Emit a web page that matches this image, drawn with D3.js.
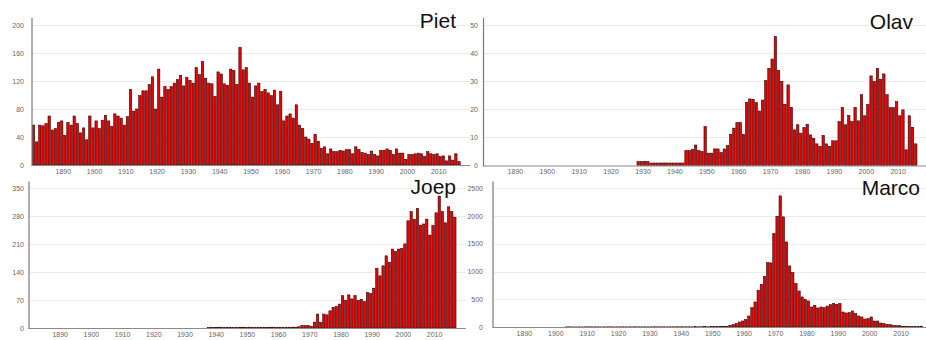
<!DOCTYPE html>
<html>
<head>
<meta charset="utf-8">
<script src="https://cdn.jsdelivr.net/npm/d3@7"></script>
<style>
  html, body { margin: 0; padding: 0; background: #fff; overflow: hidden; }
  svg { display: block; }
</style>
</head>
<body>
<svg id="chart" width="926" height="340"></svg>
<script>
// Yearly counts per first name (first year of each series + values)
const yearTicks = [1890, 1900, 1910, 1920, 1930, 1940, 1950, 1960, 1970, 1980, 1990, 2000, 2010];

const pietStart = 1880;
const pietCounts = [
  57, 33, 57, 56, 59, 70, 50, 52, 61, 63,
  42, 61, 57, 70, 59, 46, 53, 36, 70, 53,
  63, 52, 64, 71, 63, 55, 73, 70, 67, 57,
  69, 108, 77, 80, 99, 106, 106, 115, 126, 80,
  137, 97, 112, 108, 112, 117, 122, 128, 113, 125,
  121, 117, 139, 129, 148, 124, 117, 116, 98, 133,
  130, 116, 114, 137, 135, 115, 168, 136, 139, 117,
  97, 113, 117, 105, 108, 103, 99, 107, 86, 105,
  63, 70, 73, 67, 86, 57, 52, 40, 37, 31,
  44, 34, 24, 26, 16, 23, 19, 19, 21, 20,
  22, 22, 16, 26, 22, 18, 17, 15, 20, 15,
  13, 21, 21, 23, 21, 15, 23, 17, 17, 8,
  15, 15, 16, 17, 16, 12, 19, 16, 15, 16,
  12, 13, 6, 13, 7, 16, 5
];

const olavStart = 1928;
const olavCounts = [
  1.4, 1.4, 1.4, 1.4,
  0.9, 0.9, 0.9, 0.9, 0.9, 0.9, 0.9, 0.9, 0.9, 0.9, 0.9,
  5.3, 5.3, 5.8, 7.3, 5.3, 5.0, 13.9,
  4.4, 4.4, 5.9, 5.9, 4.6, 5.9, 7.1, 11.1, 13.3, 15.3,
  15.3, 11.1, 22.5, 23.7, 23.6, 22.4, 19.4, 23.3, 30.2, 34.6,
  37.9, 45.9, 33.8, 29.9, 21.8, 28.7, 20.7, 12.7, 14.5, 11.5,
  13.5, 14.7, 10.9, 9.7, 7.7, 6.8, 10.7, 7.7, 6.8, 8.8,
  8.8, 15.6, 20.7, 14.5, 17.8, 15.6, 20.7, 15.9, 25.2, 17.7,
  21.7, 31.9, 29.9, 34.6, 30.7, 32.6, 25.2, 20.6, 20.6, 22.7,
  17.7, 19.8, 5.6, 17.7, 13.6, 7.7
];

const joepStart = 1937;
const joepCounts = [
  1, 2, 1, 2, 2, 1, 2, 2, 1, 2, 2, 2, 1, 2, 2, 1, 2, 2, 2, 1, 2, 2, 2, 2, 1, 2, 2, 2, 2,
  3, 6, 6, 6, 4,
  15, 35, 14, 35, 33, 43, 52, 54, 60, 81,
  69, 83, 73, 81, 69, 72, 66, 89, 86, 100,
  150, 131, 156, 181, 165, 198, 192, 198, 199, 211,
  269, 292, 273, 300, 258, 261, 273, 233, 257, 289,
  331, 292, 264, 304, 292, 278
];

const marcoStart = 1903;
const marcoCounts = [
  2, 3, 2, 2, 3, 2, 3, 3, 2, 3, 3, 2, 3, 3, 3, 2, 3, 3, 4, 3,
  3, 3, 4, 3, 3, 4, 3, 4, 4, 3, 4, 4, 3, 4, 4, 4, 3, 4, 4, 4,
  4, 5, 4, 4, 5, 4, 5,
  5, 6, 8, 8,
  12, 30, 42, 60, 90, 108, 132,
  199, 349, 452, 662, 771, 915, 1162, 1156, 1686, 1999,
  2366, 1987, 1535, 1102, 981, 783, 650, 542, 494, 470,
  361, 391, 343, 361, 349, 379, 403, 421, 409, 421,
  271, 253, 259, 289, 241, 199, 181, 144, 150, 181,
  108, 108, 72, 60, 48, 42, 30, 24, 24, 12,
  6, 6, 6, 6, 8, 15
];

const pietTicks  = [0, 40, 80, 120, 160, 200];
const olavTicks  = [0, 10, 20, 30, 40, 50];
const joepTicks  = [0, 70, 140, 210, 280, 350];
const marcoTicks = [0, 500, 1000, 1500, 2000, 2500];

// Layout of the four small multiples
const panels = [
  { name: "Piet",  start: pietStart,  counts: pietCounts,  ticks: pietTicks,
    left: 32,    right: 470,   base: 165,   top: 18,    labelX: 24,  axisLabelY: 174,
    titleX: 456, titleY: 27.5 },
  { name: "Olav",  start: olavStart,  counts: olavCounts,  ticks: olavTicks,
    left: 483.5, right: 930.1, base: 165.5, top: 18,    labelX: 478, axisLabelY: 174,
    titleX: 913, titleY: 28.5 },
  { name: "Joep",  start: joepStart,  counts: joepCounts,  ticks: joepTicks,
    left: 29,    right: 465.8, base: 328,   top: 181.5, labelX: 24,  axisLabelY: 336.5,
    titleX: 456, titleY: 193.5 },
  { name: "Marco", start: marcoStart, counts: marcoCounts, ticks: marcoTicks,
    left: 493,   right: 932.5, base: 327,   top: 181.5, labelX: 483, axisLabelY: 336,
    titleX: 920, titleY: 194.5 }
];

const svg = d3.select("#chart");
const FONT = "'Liberation Sans', Arial, sans-serif";

panels.forEach(p => {
  const g = svg.append("g");
  const topTick = p.ticks[p.ticks.length - 1];

  const x = d3.scaleLinear().domain([1880, 2020]).range([p.left, p.right]);
  const y = d3.scaleLinear().domain([0, topTick * 1.05]).range([p.base, p.top]);
  const step = x(1881) - x(1880);

  // horizontal grid lines
  g.selectAll("line.grid")
    .data(p.ticks.filter(t => t > 0))
    .join("line")
    .attr("class", "grid")
    .attr("x1", p.left).attr("x2", p.right)
    .attr("y1", d => Math.round(y(d)) + 0.5).attr("y2", d => Math.round(y(d)) + 0.5)
    .attr("stroke", "#ebebeb").attr("stroke-width", 1);

  // y tick labels
  g.selectAll("text.ytick")
    .data(p.ticks)
    .join("text")
    .attr("class", "ytick")
    .attr("x", p.labelX)
    .attr("y", d => y(d) + 2.5)
    .attr("text-anchor", "end")
    .attr("font-family", FONT)
    .attr("font-size", 7)
    .attr("fill", "#666")
    .text(d => d);

  // bars
  const rows = p.counts
    .map((v, i) => ({ year: p.start + i, value: v }))
    .filter(d => d.value > 0);

  g.selectAll("rect.bar")
    .data(rows)
    .join("rect")
    .attr("class", "bar")
    .attr("x", d => x(d.year) + 0.35)
    .attr("width", step - 0.75)
    .attr("y", d => y(d.value))
    .attr("height", d => p.base - y(d.value))
    .attr("fill", "#e80000")
    .attr("stroke", "#2a0000")
    .attr("stroke-width", 0.55);

  // baseline
  g.append("line")
    .attr("x1", p.left).attr("x2", p.right)
    .attr("y1", p.base + 0.5).attr("y2", p.base + 0.5)
    .attr("stroke", "#8a8a8a").attr("stroke-width", 1.2);

  // y axis line
  g.append("line")
    .attr("x1", p.left).attr("x2", p.left)
    .attr("y1", p.top).attr("y2", p.base + 1)
    .attr("stroke", "#777").attr("stroke-width", 1.2);

  // x tick labels
  g.selectAll("text.xtick")
    .data(yearTicks)
    .join("text")
    .attr("class", "xtick")
    .attr("x", d => x(d))
    .attr("y", p.axisLabelY)
    .attr("text-anchor", "middle")
    .attr("font-family", FONT)
    .attr("font-size", 7)
    .attr("fill", "#666")
    .text(d => d);

  // name
  g.append("text")
    .attr("x", p.titleX)
    .attr("y", p.titleY)
    .attr("text-anchor", "end")
    .attr("font-family", FONT)
    .attr("font-size", 21)
    .attr("fill", "#111")
    .text(p.name);
});
</script>
</body>
</html>
